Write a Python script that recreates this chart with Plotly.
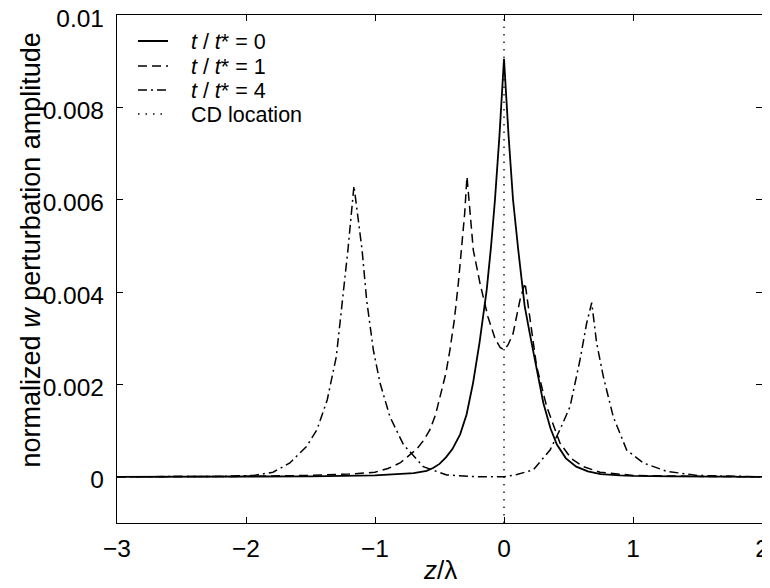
import plotly.graph_objects as go

# z/lambda positions and amplitudes (x1e-3)
z_t0 = [-3, -2, -1.5, -1.0, -0.85, -0.7, -0.6, -0.55, -0.5, -0.45, -0.4, -0.34, -0.29, -0.24, -0.19, -0.134, -0.1,
        -0.07, -0.035, 0,
        0.035, 0.07, 0.111, 0.16, 0.2, 0.227, 0.26, 0.305, 0.36, 0.41, 0.48, 0.56, 0.65, 0.75, 0.9, 1.0, 1.3, 2]
w_t0 = [0, 0, 0.01, 0.03, 0.05, 0.08, 0.13, 0.19, 0.28, 0.42, 0.6, 0.92, 1.35, 2.03, 2.9, 4.05, 5.0,
        6.0, 7.4, 9.05,
        7.4, 6.0, 4.9, 3.7, 3.1, 2.7, 2.2, 1.6, 1.05, 0.7, 0.4, 0.22, 0.12, 0.06, 0.03, 0.02, 0.01, 0]

z_t1 = [-3, -2.5, -2.0, -1.5, -1.2, -1.0, -0.9, -0.806, -0.715, -0.677, -0.62, -0.574, -0.53, -0.496, -0.45,
        -0.419, -0.385, -0.354, -0.328, -0.305, -0.287, -0.265, -0.238, -0.186, -0.124, -0.07, -0.03, 0,
        0.03, 0.07, 0.124, 0.163, 0.2, 0.253, 0.331, 0.434, 0.52, 0.615, 0.744, 0.9, 1.0, 1.5, 2]
w_t1 = [0, 0, 0.01, 0.03, 0.06, 0.1, 0.18, 0.3, 0.5, 0.6, 0.8, 1.02, 1.35, 1.74, 2.25,
        2.75, 3.4, 4.19, 4.91, 5.7, 6.5, 5.8, 4.91, 4.19, 3.46, 3.0, 2.8, 2.75,
        2.85, 3.1, 3.83, 4.2, 3.46, 2.39, 1.52, 0.73, 0.4, 0.22, 0.1, 0.05, 0.03, 0.01, 0]

z_t4 = [-3, -2.5, -2.2, -1.94, -1.79, -1.66, -1.53, -1.45, -1.37, -1.30, -1.25, -1.21, -1.163, -1.10, -1.065,
        -1.013, -0.961, -0.884, -0.78, -0.626, -0.444, -0.2, 0, 0.1, 0.227, 0.357, 0.434, 0.512, 0.589, 0.641,
        0.68, 0.718, 0.77, 0.847, 0.951, 1.08, 1.26, 1.5, 2]
w_t4 = [0, 0.005, 0.01, 0.03, 0.1, 0.3, 0.66, 1.02, 1.67, 2.6, 3.83, 4.91, 6.3, 4.91, 3.83,
        2.75, 2.03, 1.3, 0.7, 0.22, 0.04, 0.0, 0.0, 0.05, 0.15, 0.58, 1.02, 1.52, 2.53, 3.33,
        3.77, 2.9, 2.17, 1.3, 0.58, 0.3, 0.12, 0.03, 0]

cd_z = [0, 0]
cd_w = [-0.001, 0.01]

x_ticks = [-3, -2, -1, 0, 1, 2]
y_ticks = [0, 0.002, 0.004, 0.006, 0.008, 0.01]
y_ticktext = ["0", "0.002", "0.004", "0.006", "0.008", "0.01"]

series_names = ["<i>t</i> / <i>t</i>* = 0", "<i>t</i> / <i>t</i>* = 1", "<i>t</i> / <i>t</i>* = 4", "CD location"]


def scale(v):
    return [a * 1e-3 for a in v]


FONT = "Liberation Sans, Arial, Helvetica, sans-serif"
PAD = "\u2007\u2008"  # small gap between sample line and legend text

fig = go.Figure()
fig.add_trace(go.Scatter(x=z_t0, y=scale(w_t0), mode="lines", name=PAD + series_names[0], legend="legend",
                         line=dict(color="black", width=1.8)))
fig.add_trace(go.Scatter(x=z_t1, y=scale(w_t1), mode="lines", name=PAD + series_names[1], legend="legend2",
                         line=dict(color="black", width=1.5, dash="9px,5px")))
fig.add_trace(go.Scatter(x=z_t4, y=scale(w_t4), mode="lines", name=PAD + series_names[2], legend="legend3",
                         line=dict(color="black", width=1.5, dash="9px,4px,2px,4px")))
fig.add_trace(go.Scatter(x=cd_z, y=cd_w, mode="lines", name=PAD + series_names[3], legend="legend4",
                         line=dict(color="black", width=1.3, dash="1.5px,6px")))

leg_common = dict(x=0.0248, xanchor="left", yanchor="middle", bgcolor="rgba(0,0,0,0)", borderwidth=0,
                  font=dict(family=FONT, size=21.5, color="black"))

# The page adds an 8px body margin, so the figure is sized 762x580 to fill the 770x588 window.
fig.update_layout(
    width=762, height=580,
    margin=dict(l=109, r=8, t=7, b=65, autoexpand=False),
    paper_bgcolor="white", plot_bgcolor="white",
    font=dict(family=FONT, size=24.5, color="black"),
    showlegend=True,
    legend=dict(y=0.9488, **leg_common),
    legend2=dict(y=0.8996, **leg_common),
    legend3=dict(y=0.8524, **leg_common),
    legend4=dict(y=0.8051, **leg_common),
    xaxis=dict(range=[-3, 2], tickvals=x_ticks, ticks="inside", ticklen=6, tickcolor="black",
               showline=True, linecolor="black", linewidth=1.2, mirror="ticks",
               showgrid=False, zeroline=False, ticklabelstandoff=3, automargin=False,
               ticklabeloverflow="allow", tickfont=dict(family=FONT, size=24.5)),
    yaxis=dict(range=[-0.001, 0.01], tickvals=y_ticks, ticktext=y_ticktext, ticks="inside",
               ticklen=6, tickcolor="black",
               showline=True, linecolor="black", linewidth=1.2, mirror="ticks",
               showgrid=False, zeroline=False, ticklabelstandoff=7, ticklabelshift=3,
               automargin=False, ticklabeloverflow="allow", tickfont=dict(family=FONT, size=24.5)),
    annotations=[
        dict(text="<i>z</i>/λ", xref="paper", yref="paper", x=0.5, y=-0.126,
             xanchor="center", yanchor="bottom", showarrow=False,
             font=dict(family=FONT, size=26)),
        dict(text="normalized <i>w</i> perturbation amplitude", xref="paper", yref="paper",
             x=-0.133, y=0.537, xanchor="center", yanchor="middle", textangle=-90,
             showarrow=False, font=dict(family=FONT, size=27)),
    ],
)

fig.write_html("out.html")
